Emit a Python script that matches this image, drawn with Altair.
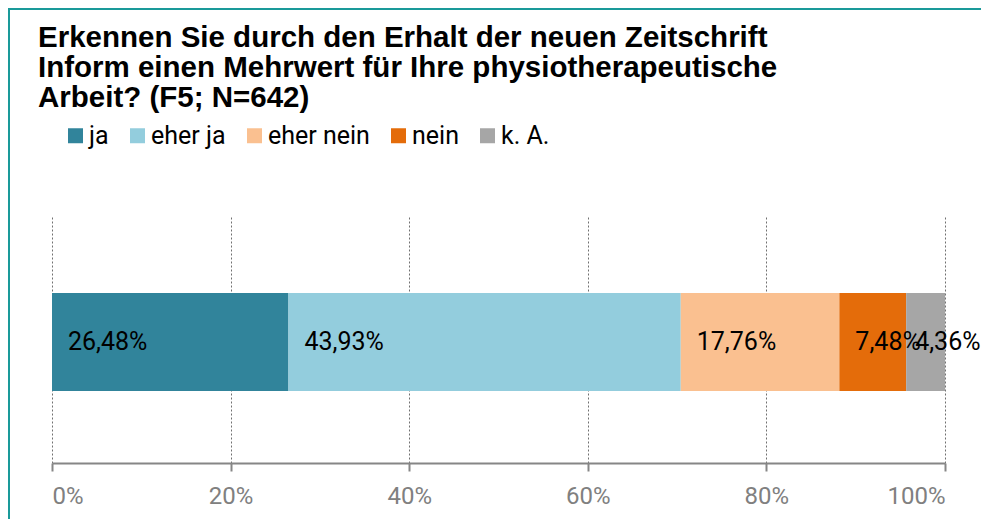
import altair as alt
import pandas as pd

categories = ["ja", "eher ja", "eher nein", "nein", "k. A."]
values = [26.48, 43.93, 17.76, 7.48, 4.36]
colors = ["#31849B", "#93CDDD", "#FAC090", "#E46C0A", "#A6A6A6"]
tick_values = [0, 20, 40, 60, 80, 100]
title_lines = [
    "Erkennen Sie durch den Erhalt der neuen Zeitschrift",
    "Inform einen Mehrwert für Ihre physiotherapeutische",
    "Arbeit? (F5; N=642)",
]

df = pd.DataFrame({
    "cat": categories,
    "value": values,
    "order": list(range(len(categories))),
    "row": ["F5"] * len(categories),
})

base = alt.Chart(df).transform_window(
    cum="sum(value)", sort=[alt.SortField("order")], frame=[None, 0]
).transform_calculate(
    start="datum.cum - datum.value",
    label="replace(format(datum.value, '.2f'), '.', ',') + '%'",
)

FONT = "Roboto"
xscale = alt.Scale(domain=[0, 100], nice=False, zero=True)
yscale = alt.Scale(paddingInner=0, paddingOuter=0.765, align=0.52)

bars = base.mark_bar().encode(
    x=alt.X(
        "start:Q",
        scale=xscale,
        axis=alt.Axis(
            values=tick_values,
            labelExpr="datum.value + '%'",
            title=None,
            grid=True,
            gridColor="#707070",
            gridDash=[2, 2],
            gridWidth=1,
            domainColor="#868686",
            domainWidth=2,
            tickColor="#868686",
            tickWidth=2,
            tickSize=8,
            labelColor="#808080",
            labelFontSize=24,
            labelFont=FONT,
            labelPadding=13,
        ),
    ),
    x2="cum:Q",
    y=alt.Y("row:N", scale=yscale, axis=None),
    color=alt.Color(
        "cat:N",
        scale=alt.Scale(domain=categories, range=colors),
        legend=alt.Legend(
            title=None,
            orient="none",
            legendX=11,
            legendY=-92,
            direction="horizontal",
            symbolType="square",
            symbolSize=225,
            symbolStrokeWidth=0,
            symbolOpacity=1,
            labelFontSize=25,
            labelFont=FONT,
            labelColor="#000000",
            labelOffset=1,
            columnPadding=16,
            padding=0,
        ),
        sort=categories,
    ),
    order=alt.Order("order:Q"),
)

text_main = base.transform_filter("datum.order < 4").mark_text(
    align="left", baseline="middle", dx=16, fontSize=25, font=FONT, color="#000000"
).encode(
    x=alt.X("start:Q", scale=xscale),
    y=alt.Y("row:N", scale=yscale),
    text="label:N",
)

text_last = base.transform_filter("datum.order == 4").mark_text(
    align="left", baseline="middle", dx=9, fontSize=25, font=FONT, color="#000000"
).encode(
    x=alt.X("start:Q", scale=xscale),
    y=alt.Y("row:N", scale=yscale),
    text="label:N",
)

frame = alt.Chart(pd.DataFrame({"a": [0]})).mark_rect(
    fill=None, stroke="#1a9a9a", strokeWidth=2, clip=False
).encode(
    x=alt.value(-43),
    x2=alt.value(960),
    y=alt.value(-206),
    y2=alt.value(400),
)

chart = alt.layer(frame, bars, text_main, text_last).properties(
    width=893,
    height=248,
    autosize=alt.AutoSizeParams(type="none"),
    padding={"left": 44, "top": 207, "right": 36, "bottom": 56},
    title=alt.TitleParams(
        text=title_lines,
        anchor="start",
        frame="group",
        fontSize=29.5,
        font="Liberation Sans",
        fontWeight="bold",
        color="#000000",
        lineHeight=30,
        dx=-14,
        dy=117,
        offset=12,
    ),
).configure_view(stroke=None).configure_axis(ticks=True)

chart.save("out.html", embed_options={"renderer": "svg", "actions": False})
